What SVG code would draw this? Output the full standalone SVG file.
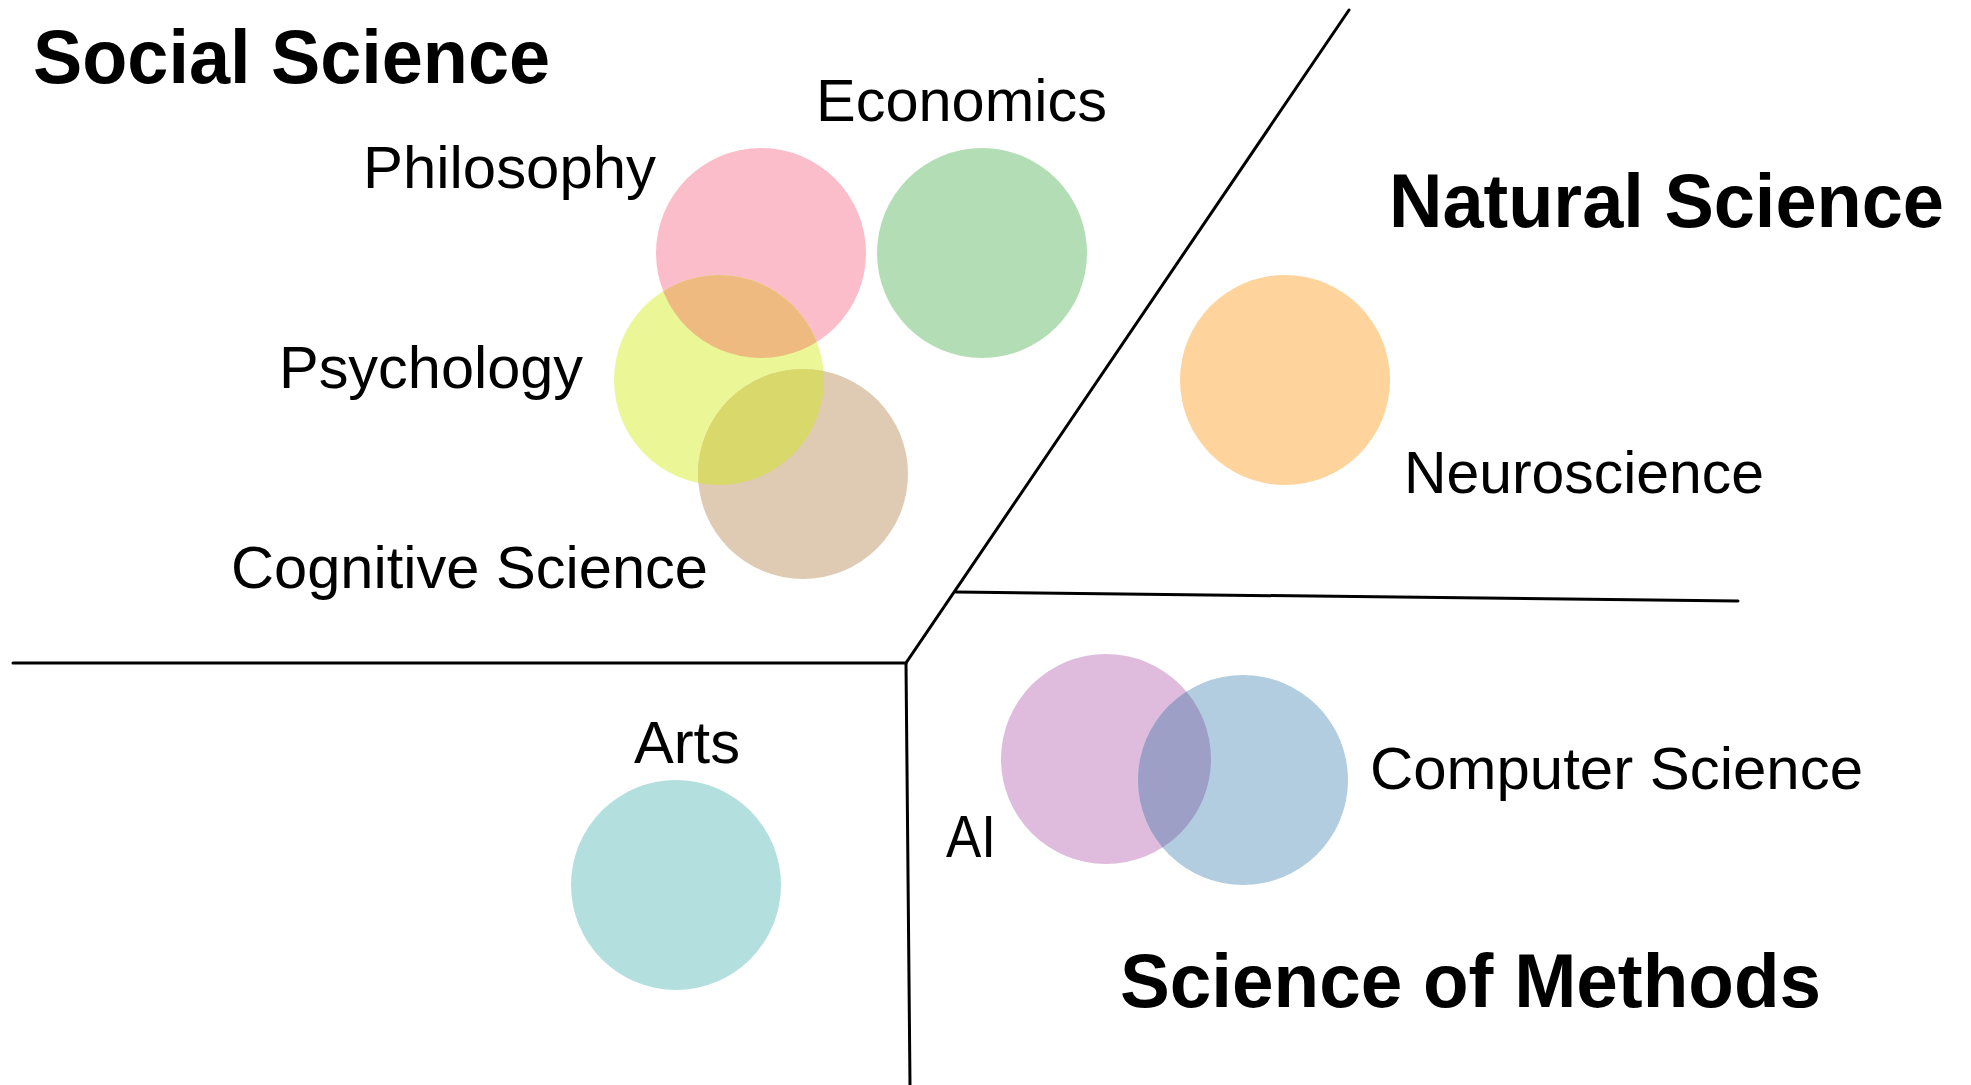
<svg xmlns="http://www.w3.org/2000/svg" width="1971" height="1085" viewBox="0 0 1971 1085">
<style>
.lbl{font-family:"Liberation Sans",Arial,Helvetica,sans-serif;font-size:60px;fill:#000}
.hdr{font-family:"Liberation Sans",Arial,Helvetica,sans-serif;font-size:76px;font-weight:bold;fill:#000}
.ln{stroke:#000;stroke-width:3;fill:none;stroke-linecap:round;stroke-linejoin:miter}
</style>
<defs>
<clipPath id="clipPhil"><circle cx="761" cy="253" r="105"/></clipPath>
<clipPath id="clipPsych"><circle cx="719" cy="380" r="105"/></clipPath>
<clipPath id="clipAI"><circle cx="1106" cy="759" r="105"/></clipPath>
</defs>
<rect width="1971" height="1085" fill="#fff"/>
<g id="connectors">
<polyline class="ln" points="1349,10 906,663 910,1085"/>
<line class="ln" x1="13" y1="663" x2="906" y2="663"/>
<line class="ln" x1="956" y1="592" x2="1738" y2="601"/>
</g>
<g id="region-social"><text class="hdr" x="33" y="83" textLength="517" lengthAdjust="spacingAndGlyphs">Social Science</text></g>
<g id="region-natural"><text class="hdr" x="1389" y="227" textLength="555" lengthAdjust="spacingAndGlyphs">Natural Science</text></g>
<g id="region-methods"><text class="hdr" x="1120" y="1007" textLength="701" lengthAdjust="spacingAndGlyphs">Science of Methods</text></g>
<g id="philosophy">
<circle cx="761" cy="253" r="105" fill="#FBBDC9"/>
<text class="lbl" x="363" y="188" textLength="293" lengthAdjust="spacingAndGlyphs">Philosophy</text>
</g>
<g id="economics">
<circle cx="982" cy="253" r="105" fill="#B3DEB5"/>
<text class="lbl" x="816" y="121" textLength="291" lengthAdjust="spacingAndGlyphs">Economics</text>
</g>
<g id="psychology">
<circle cx="719" cy="380" r="105" fill="#EBF796"/>
<circle cx="719" cy="380" r="105" fill="#EEBA80" clip-path="url(#clipPhil)"/>
<text class="lbl" x="279" y="388" textLength="304" lengthAdjust="spacingAndGlyphs">Psychology</text>
</g>
<g id="cognitive-science">
<circle cx="803" cy="474" r="105" fill="#DFCBB3"/>
<circle cx="803" cy="474" r="105" fill="#D9D86B" clip-path="url(#clipPsych)"/>
<text class="lbl" x="231" y="588" textLength="477" lengthAdjust="spacingAndGlyphs">Cognitive Science</text>
</g>
<g id="neuroscience">
<circle cx="1285" cy="380" r="105" fill="#FED49C"/>
<text class="lbl" x="1404" y="493" textLength="360" lengthAdjust="spacingAndGlyphs">Neuroscience</text>
</g>
<g id="arts">
<circle cx="676" cy="885" r="105" fill="#B3DFDE"/>
<text class="lbl" x="634" y="763" textLength="106" lengthAdjust="spacingAndGlyphs">Arts</text>
</g>
<g id="ai">
<circle cx="1106" cy="759" r="105" fill="#DFBCDD"/>
<text class="lbl" x="946" y="857" textLength="50" lengthAdjust="spacingAndGlyphs">AI</text>
</g>
<g id="computer-science">
<circle cx="1243" cy="780" r="105" fill="#B3CDE0"/>
<circle cx="1243" cy="780" r="105" fill="#9E9FC6" clip-path="url(#clipAI)"/>
<text class="lbl" x="1370" y="789" textLength="493" lengthAdjust="spacingAndGlyphs">Computer Science</text>
</g>
</svg>
